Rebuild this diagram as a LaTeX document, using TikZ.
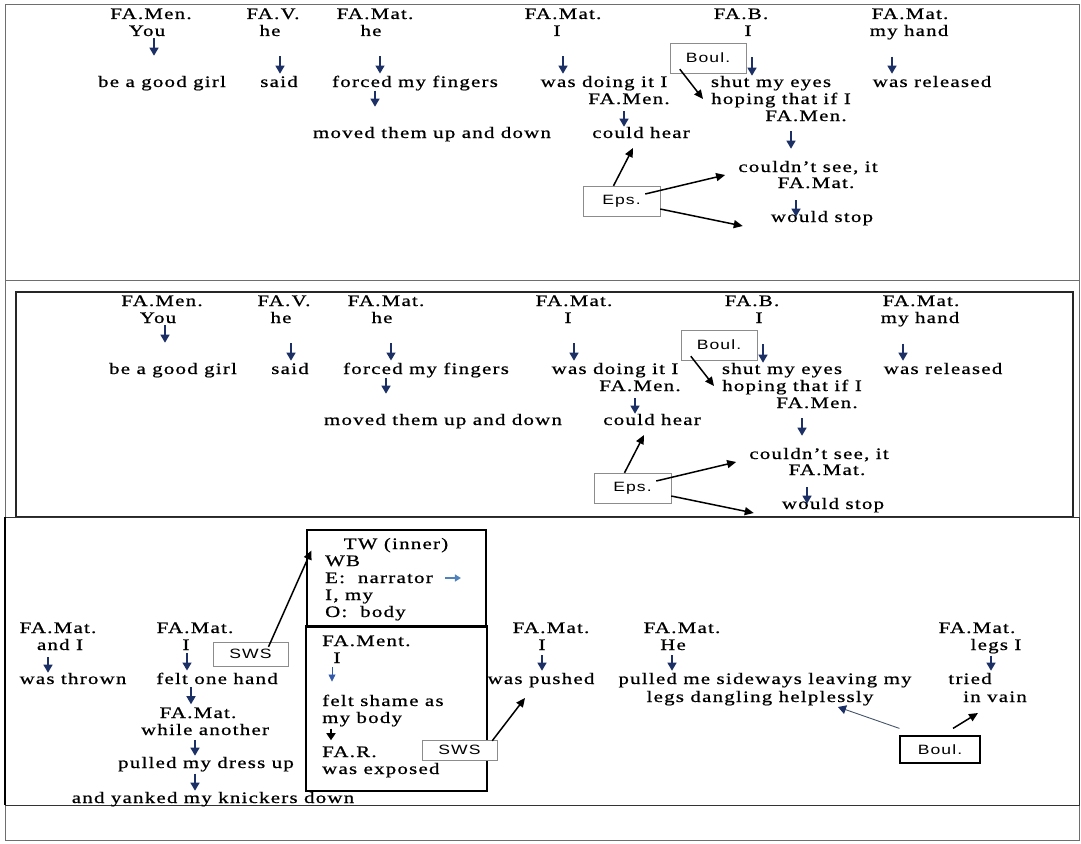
\documentclass[tikz,border=0pt]{standalone}
\usepackage{fontspec}
\setmainfont{Liberation Serif}[FakeStretch=1.3,LetterSpace=8,FakeBold=0.8]
\newfontfamily\boxfont{Liberation Sans}[FakeStretch=1.3,LetterSpace=8]
\usetikzlibrary{arrows.meta,calc}
\definecolor{arrnavy}{RGB}{28,48,102}
\definecolor{lightarr}{RGB}{79,129,189}
\definecolor{thinblue}{RGB}{50,90,170}
\definecolor{slate}{RGB}{68,84,106}
\definecolor{framegray}{RGB}{110,110,110}

% one clause chain, drawn twice (top and boxed copy)
\newcommand\storypanel{%
\node[txt] (m1) at (151,19) {FA.Men.};
\node[txt] (you) at (147,36) {You};
\node[txt] (girl) at (162,87) {be a good girl};
\node[txt] (v1) at (273,19) {FA.V.};
\node[txt] (he1) at (270,36) {he};
\node[txt] (said) at (279,87) {said};
\node[txt] (m2) at (375,19) {FA.Mat.};
\node[txt] (he2) at (371,36) {he};
\node[txt] (forced) at (415,87) {forced my fingers};
\node[txt] (moved) at (432,138) {moved them up and down};
\node[txt] (m3) at (563,19) {FA.Mat.};
\node[txt] (i1) at (557,36) {I};
\node[txt] (doing) at (604,87) {was doing it I};
\node[txt] (men2) at (629,104) {FA.Men.};
\node[txt] (hear) at (641,138) {could hear};
\node[txt] (fab) at (741,19) {FA.B.};
\node[txt] (i2) at (748,36) {I};
\node[txt] (shut) at (771,87) {shut my eyes};
\node[txt] (hoping) at (781,104) {hoping that if I};
\node[txt] (men3) at (806,121) {FA.Men.};
\node[txt] (see) at (808,172) {couldn’t see, it};
\node[txt] (m4) at (816,188) {FA.Mat.};
\node[txt] (stop) at (822,222) {would stop};
\node[txt] (m5) at (910,19) {FA.Mat.};
\node[txt] (hand) at (909,36) {my hand};
\node[txt] (released) at (932,87) {was released};
\node[labelbox,minimum width=76pt,minimum height=30pt] (boul) at (708,58) {Boul.};
\node[labelbox,minimum width=77pt,minimum height=30pt] (eps) at (621.5,201) {Eps.};
\draw[darr,shorten <=2pt,shorten >=20pt] ([xshift=7pt]you.south) -- ([xshift=7pt]you.south |- girl.north);
\draw[darr,shorten <=20pt,shorten >=2pt] ([xshift=10pt]he1.south) -- ([xshift=10pt]he1.south |- said.north);
\draw[darr,shorten <=20pt,shorten >=2pt] ([xshift=9pt]he2.south) -- ([xshift=9pt]he2.south |- forced.north);
\draw[darr,shorten >=20pt] ([xshift=-40pt]forced.south) -- ([xshift=-40pt]forced.south |- moved.north);
\draw[darr,shorten <=20pt,shorten >=2pt] ([xshift=6pt]i1.south) -- ([xshift=6pt]i1.south |- doing.north);
\draw[darr,shorten <=7pt] ([xshift=-5pt]men2.south) -- ([xshift=-5pt]men2.south |- hear.north);
\draw[darr,shorten <=21pt] ([xshift=4pt]i2.south) -- ([xshift=4pt]i2.south |- shut.north);
\draw[darr,shorten <=10pt,shorten >=12pt] ([xshift=-15pt]men3.south) -- ([xshift=-15pt]men3.south |- see.north);
\draw[darr,shorten <=12pt,shorten >=-6pt] ([xshift=-20pt]m4.south) -- ([xshift=-20pt]m4.south |- stop.north);
\draw[darr,shorten <=17pt,shorten >=2pt] ([xshift=-17pt]hand.south) -- ([xshift=-17pt]hand.south |- released.north);
\draw[barr] ([xshift=10pt,yshift=4pt]boul.south west) -- ([xshift=-8pt,yshift=5pt]hoping.base west);
\draw[barr] ([xshift=-8pt]eps.north) -- ([xshift=-8pt,yshift=-10pt]hear.base);
\draw[barr] ([xshift=-15pt,yshift=7pt]eps.east) -- ([xshift=-13pt,yshift=-3pt]see.base west);
\draw[barr] ([yshift=-8pt]eps.east) -- ([xshift=-28pt,yshift=-4pt]stop.base west);
}

\begin{document}
\begin{tikzpicture}[x=1pt,y=-1pt,
 every node/.style={font=\fontsize{16}{18}\selectfont},
 txt/.style={inner sep=0pt,anchor=base},
 labelbox/.style={draw=black!45,fill=white,inner sep=0pt,font=\boxfont\fontsize{13.5}{15}\selectfont},
 darr/.style={draw=arrnavy,line width=1.3pt,-{Triangle[width=9pt,length=8pt]}},
 barr/.style={line width=1.5pt,-{Triangle[width=8pt,length=9pt]}},
 blkarr/.style={line width=1.6pt,-{Triangle[width=9pt,length=7pt]}},
 thinarr/.style={draw=thinblue,line width=.8pt,-{Triangle[width=7pt,length=7pt]}},
 lbarr/.style={draw=lightarr,line width=2.4pt,-{Triangle[width=7pt,length=6pt]}},
 grayarr/.style={draw=slate,line width=.9pt,-{Triangle[width=9pt,length=8pt,color=arrnavy]}}]
\useasboundingbox (0,0) rectangle (1081,843);
% frames
\draw[framegray,line width=1pt] (5,5) rectangle (1079,840);
\draw[framegray,line width=1pt] (5,280) -- (1079,280);
\draw[black!85,line width=1.3pt] (16,292) rectangle (1073,517);
\draw[black!80,line width=1pt] (5,517) rectangle (1079,805);
\draw[black,line width=2pt] (5,517) -- (5,805);

\begin{scope}[name prefix=top-]
\storypanel
\end{scope}
\begin{scope}[shift={(11,287)},name prefix=mid-]
\storypanel
\end{scope}

% lower panel
\node[draw,line width=1.3pt,inner sep=0pt,minimum width=179pt,minimum height=97pt] (tw) at (396.5,578.5) {};
\node[draw,line width=1.3pt,inner sep=0pt,minimum width=181pt,minimum height=165pt] (shame) at (396.5,708.5) {};
\node[txt] (twin) at (396,549) {TW (inner)};
\node[txt,anchor=base west] (wb) at (325,566) {WB};
\node[txt,anchor=base west] (narr) at (325,583) {E:\ \ narrator};
\node[txt,anchor=base west] (imy) at (325,600) {I, my};
\node[txt,anchor=base west] (obody) at (325,617) {O:\ \ body};
\draw[lbarr] ([xshift=12pt,yshift=5pt]narr.base east) -- ++(16,0);

\node[txt,anchor=base west] (fament) at (322,646) {FA.Ment.};
\node[txt] (ishame) at (337,663) {I};
\node[txt,anchor=base west] (feltshame) at (322,706) {felt shame as};
\node[txt,anchor=base west] (mybody) at (322,723) {my body};
\node[txt,anchor=base west] (far) at (322,757) {FA.R.};
\node[txt,anchor=base west] (exposed) at (322,774) {was exposed};
\draw[thinarr,shorten <=4pt,shorten >=13pt] ([xshift=-5pt]ishame.south) -- ([xshift=-5pt]ishame.south |- feltshame.north);
\draw[blkarr,shorten <=2pt,shorten >=6pt] ([xshift=9pt]mybody.south west) -- ([xshift=9pt]mybody.south west |- far.north);

\node[txt] (b1) at (58,633) {FA.Mat.};
\node[txt] (b2) at (60,650) {and I};
\node[txt] (thrown) at (73,684) {was thrown};
\node[txt] (b3) at (195,633) {FA.Mat.};
\node[txt] (b4) at (186,650) {I};
\node[txt] (felt) at (217,684) {felt one hand};
\node[txt] (b5) at (198,718) {FA.Mat.};
\node[txt] (another) at (205,735) {while another};
\node[txt] (dress) at (206,768) {pulled my dress up};
\node[txt] (knickers) at (213,803) {and yanked my knickers down};
\node[txt] (c1) at (551,633) {FA.Mat.};
\node[txt] (c2) at (542,650) {I};
\node[txt] (pushed) at (541,684) {was pushed};
\node[txt] (d1) at (682,633) {FA.Mat.};
\node[txt] (he) at (673,650) {He};
\node[txt] (sideways) at (765,684) {pulled me sideways leaving my};
\node[txt] (dangling) at (760,702) {legs dangling helplessly};
\node[txt] (e1) at (977,633) {FA.Mat.};
\node[txt] (legs) at (996,650) {legs I};
\node[txt] (tried) at (970,684) {tried};
\node[txt] (vain) at (995,702) {in vain};

\draw[darr,shorten <=7pt] ([xshift=-12pt]b2.south) -- ([xshift=-12pt]b2.south |- thrown.north);
\draw[darr,shorten <=3pt,shorten >=2pt] ([xshift=1pt]b4.south) -- ([xshift=1pt]b4.south |- felt.north);
\draw[darr,shorten <=3pt,shorten >=3pt] ([xshift=-26pt]felt.south) -- ([xshift=-26pt]felt.south |- b5.north);
\draw[darr,shorten <=5pt,shorten >=1pt] ([xshift=-10pt]another.south) -- ([xshift=-10pt]another.south |- dress.north);
\draw[darr,shorten <=2pt,shorten >=1pt] ([xshift=-11pt]dress.south) -- ([xshift=-11pt]dress.south |- knickers.north);
\draw[darr,shorten <=5pt,shorten >=2pt] (c2.south) -- (c2.south |- pushed.north);
\draw[darr,shorten <=5pt,shorten >=2pt] ([xshift=-1pt]he.south) -- ([xshift=-1pt]he.south |- sideways.north);
\draw[darr,shorten <=2pt,shorten >=2pt] ([xshift=-5pt]legs.south) -- ([xshift=-5pt]legs.south |- tried.north);

\node[labelbox,minimum width=75pt,minimum height=24pt] (sws1) at (250.5,654) {SWS};
\node[labelbox,minimum width=75pt,minimum height=20pt] (sws2) at (459.5,750) {SWS};
\node[labelbox,draw=black,line width=1.2pt,minimum width=80pt,minimum height=27pt] (boul2) at (940,749.5) {Boul.};
\draw[barr] ([xshift=18pt,yshift=-5pt]sws1.north) -- ([xshift=5pt,yshift=28pt]tw.west);
\draw[barr] ([xshift=-5pt,yshift=-1pt]sws2.north east) -- ([xshift=-16pt,yshift=-14pt]pushed.base);
\draw[grayarr] ([yshift=7pt]boul2.north west) -- ([xshift=78pt,yshift=-5pt]dangling.base);
\draw[barr] ([xshift=13pt,yshift=7pt]boul2.north) -- ([xshift=-17pt,yshift=-11pt]vain.base);
\end{tikzpicture}
\end{document}
